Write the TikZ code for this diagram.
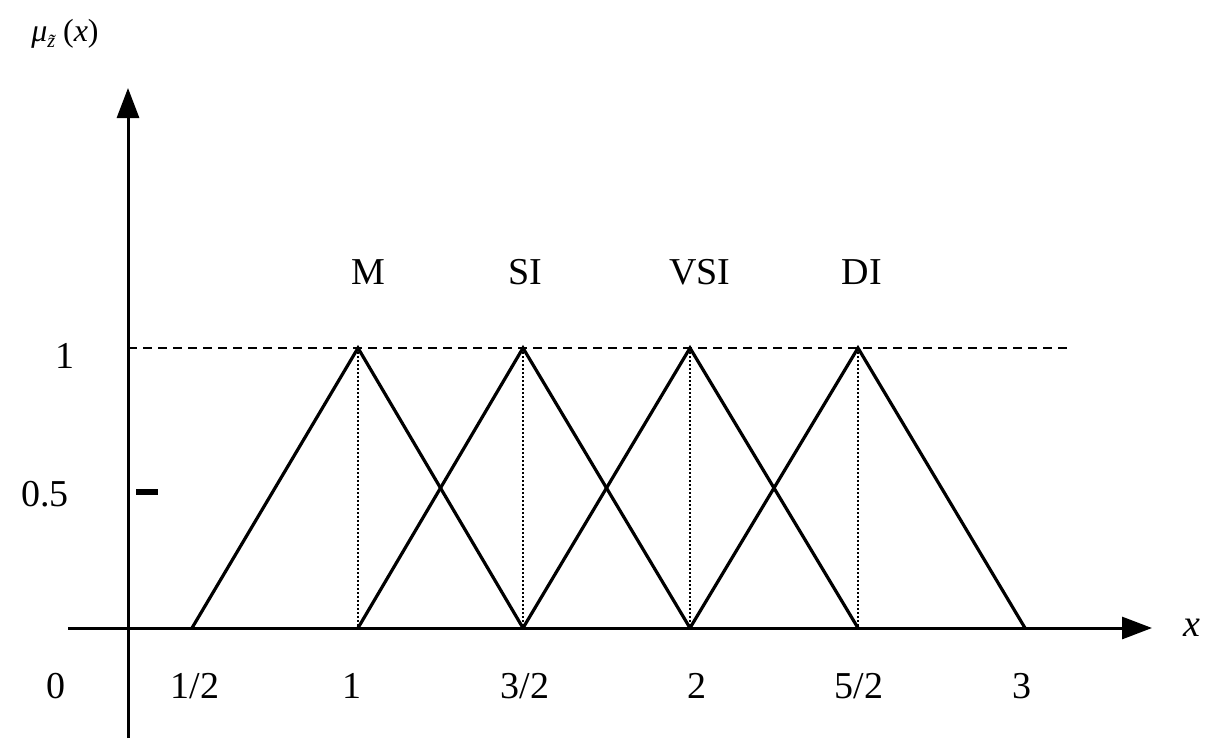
\documentclass[tikz,border=0pt]{standalone}
\usepackage{fontspec}
\setmainfont{Liberation Serif}
\usetikzlibrary{arrows.meta}
\begin{document}
\begin{tikzpicture}[x=1pt,y=-1pt,
  lbl/.style={font=\fontsize{38}{44}\selectfont, inner sep=0pt},
  tri/.style={line width=3.2pt, line join=miter},
  ax/.style={line width=3pt, -{Triangle[length=30pt,width=22pt]}}]
\useasboundingbox (0,0) rectangle (1224,755);
\coordinate (yb) at (128,738); \coordinate (yt) at (128,88);
\coordinate (xl) at (68,628); \coordinate (xr) at (1152,628);
\draw[ax] (yb) -- (yt);
\draw[ax] (xl) -- (xr);
\coordinate (d0) at (128,348); \coordinate (d1) at (1072,348);
\draw[dashed, line width=2pt, dash pattern=on 9pt off 6pt] (d0) -- (d1);
\foreach \p in {358,523,690,858}{\draw[dotted, line width=2pt] (\p,348) -- (\p,628);}
\draw[tri] (192,628) -- (358,348) -- (523,628);
\draw[tri] (358,628) -- (523,348) -- (690,628);
\draw[tri] (523,628) -- (690,348) -- (858,628);
\draw[tri] (690,628) -- (858,348) -- (1025,628);
\draw[line width=6pt] (136,492) -- (158,492);
\node[lbl] (one) at (65,356) {1};
\node[lbl] (half) at (45,494) {0.5};
\node[lbl] (zero) at (56,686) {0};
\node[lbl] at (195,686) {1/2};
\node[lbl] at (352,686) {1};
\node[lbl] at (525,686) {3/2};
\node[lbl] at (697,686) {2};
\node[lbl] at (859,686) {5/2};
\node[lbl] at (1022,686) {3};
\node[lbl] (M) at (368,272) {M};
\node[lbl] (SI) at (525,272) {SI};
\node[lbl] (VSI) at (700,272) {VSI};
\node[lbl] (DI) at (862,272) {DI};
\node[lbl] (xx) at (1192,628) {\textit{x}};
\node[lbl, font=\fontsize{32}{38}\selectfont] (mu) at (65,34) {\textit{μ}\raisebox{-6pt}{\fontsize{20}{22}\selectfont\textit{z̃}}(\textit{x})};
\end{tikzpicture}
\end{document}
